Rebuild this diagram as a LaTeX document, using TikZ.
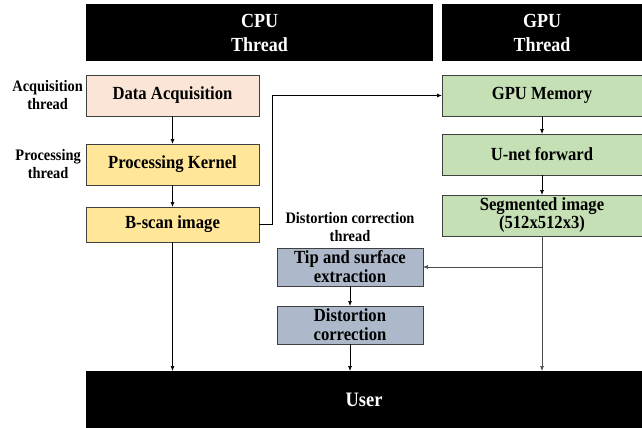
\documentclass[tikz,border=0pt]{standalone}
\usepackage{fontspec}
\setmainfont[FakeStretch=0.9]{Liberation Serif}
\usetikzlibrary{arrows.meta, positioning}

\definecolor{acqpeach}{HTML}{FBE5D6}
\definecolor{procyellow}{HTML}{FFE699}
\definecolor{gpugreen}{HTML}{C5E0B4}
\definecolor{distblue}{HTML}{ADB9CA}

\begin{document}
\begin{tikzpicture}[
x=1pt, y=-1pt,
box/.style={draw=black!75, line width=0.8pt, rectangle, align=center, inner sep=0pt, outer sep=0pt, font=\bfseries\fontsize{18.5}{18}\selectfont},
cpubox/.style={box, minimum width=173pt, minimum height=41pt},
gpubox/.style={box, fill=gpugreen, minimum width=200pt, minimum height=41pt},
distbox/.style={box, fill=distblue, minimum width=146pt, minimum height=38pt, font=\bfseries\fontsize{18.5}{19}\selectfont},
head/.style={fill=black, text=white, inner sep=0pt, outer sep=0pt, align=center, minimum height=57pt, font=\bfseries\fontsize{20}{24}\selectfont},
thrlabel/.style={align=center, inner sep=0pt, font=\bfseries\fontsize{16}{18}\selectfont},
arrow/.style={-{Latex[length=5pt,width=4pt]}, line width=0.7pt}
]
\useasboundingbox (0,0) rectangle (642,428);

% thread headers
\node[head, minimum width=347pt] (cpu) at (259.5,32.5) {CPU\\Thread};
\node[head, minimum width=200pt] (gpu) at (542,32.5) {GPU\\Thread};

% CPU side
\node[cpubox, fill=acqpeach] (acq) at (172.5,95.5) {Data Acquisition};
\node[cpubox, fill=procyellow, below=28pt of acq] (kernel) {Processing Kernel};
\node[cpubox, fill=procyellow, minimum height=35pt, below=22pt of kernel] (bscan) {B-scan image};

\node[thrlabel, left=3pt of acq] (acqlbl) {Acquisition\\thread};
\node[thrlabel, left=5pt of kernel] (proclbl) {Processing\\thread};

% GPU side
\node[gpubox] (mem) at (542,95.5) {GPU Memory};
\node[gpubox, below=18pt of mem] (unet) {U-net forward};
\node[gpubox, below=20pt of unet] (seg) {Segmented image\\(512x512x3)};

% distortion correction
\node[distbox] (tip) at (350,267) {Tip and surface\\extraction};
\node[distbox, below=20pt of tip] (dist) {Distortion\\correction};
\node[thrlabel, above=6pt of tip] (distlbl) {Distortion correction\\thread};

\node[head, minimum width=556pt, font=\bfseries\fontsize{20.5}{22}\selectfont] (user) at (364,399.5) {User};

\draw[arrow] (acq) -- (kernel);
\draw[arrow] (kernel) -- (bscan);
\draw[arrow] (bscan) -- (bscan |- user.north);
\draw[arrow] (bscan.east) -- ++(13,0) |- (mem.west);

\draw[arrow] (mem) -- (unet);
\draw[arrow] (unet) -- (seg);
\draw[arrow, black!70] (seg) -- (seg |- user.north);
\draw[arrow, black!70] (seg |- tip.east) -- (tip.east);

\draw[arrow] (tip) -- (dist);
\draw[arrow] (dist) -- (dist |- user.north);

\end{tikzpicture}
\end{document}
